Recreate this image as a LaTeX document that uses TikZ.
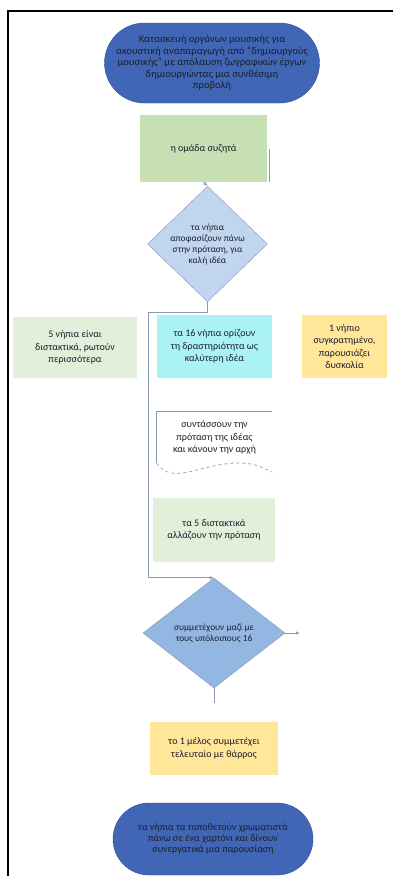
\documentclass[tikz,border=0pt]{standalone}
\usepackage{fontspec}
\setmainfont{Carlito}
\usepackage{xcolor}
\definecolor{bleunuit}{HTML}{4166B6}
\definecolor{bleubord}{HTML}{2F4E8E}
\definecolor{bleuclair}{HTML}{C0D5EE}
\definecolor{bleumoyen}{HTML}{93B6E2}
\definecolor{vert}{HTML}{C6E0B4}
\definecolor{vertpale}{HTML}{E2EFDA}
\definecolor{cyanpale}{HTML}{ABF2F6}
\definecolor{jaune}{HTML}{FFE699}
\definecolor{grisfil}{HTML}{8C9AAE}
\definecolor{encre}{HTML}{1A1F2C}
\usetikzlibrary{positioning,arrows.meta,calc,shapes.geometric,shapes.misc}

\begin{document}
\begin{tikzpicture}[x=1pt,y=-1pt,
  extremite/.style={rounded rectangle,draw=bleubord,fill=bleunuit,text=encre,align=center,inner sep=0pt,font=\fontsize{10}{11}\selectfont},
  boite/.style={fill=#1,text=encre,align=center,inner sep=0pt,font=\fontsize{10}{12.5}\selectfont},
  losange/.style={diamond,draw=grisfil,fill=#1,text=encre,align=center,inner sep=0pt,font=\fontsize{9.3}{11}\selectfont},
  fil/.style={draw=grisfil,line width=0.8pt,-{Latex[length=4pt,width=3.5pt]}}
]
\useasboundingbox (0,0) rectangle (393,876);
\draw[line width=1.5pt] (393,11) -- (8,11) -- (8,876);

\node[extremite,minimum width=215,minimum height=80,font=\fontsize{10.5}{11.5}\selectfont] (debut) at (212,63) {Κατασκευή οργάνων μουσικής για\\ακουστική αναπαραγωγή από ``δημιουργούς\\μουσικής'' με απόλαυση ζωγραφικών έργων\\δημιουργώντας μια συνθέσιμη\\προβολή};
\node[boite=vert,minimum width=127,minimum height=67] (vert) at (203.5,148.5) {η ομάδα συζητά};
\node[losange=bleuclair,minimum width=120,minimum height=108] (d1) at (207.5,244) {τα νήπια\\αποφασίζουν πάνω\\στην πρόταση, για\\καλή ιδέα};
\node[boite=vertpale,minimum width=124,minimum height=61] (gauche) at (75,347.5) {5 νήπια είναι\\διστακτικά, ρωτούν\\περισσότερα};
\node[boite=cyanpale,minimum width=115,minimum height=63] (milieu) at (214.5,346.5) {τα 16 νήπια ορίζουν\\τη δραστηριότητα ως\\καλύτερη ιδέα};
\node[boite=jaune,minimum width=85,minimum height=63] (droite) at (344.5,346.5) {1 νήπιο\\συγκρατημένο,\\παρουσιάζει\\δυσκολία};
\node[boite=white,minimum width=115,minimum height=51] (doc) at (214.5,437.5) {συντάσσουν την\\πρόταση της ιδέας\\και κάνουν την αρχή};
\node[boite=vertpale,minimum width=122,minimum height=64] (vert2) at (214,530) {τα 5 διστακτικά\\αλλάζουν την πρόταση};
\node[losange=bleumoyen,minimum width=142,minimum height=110] (d2) at (214,633) {συμμετέχουν μαζί με\\τους υπόλοιπους 16};
\node[boite=jaune,minimum width=128,minimum height=53] (jaune2) at (214,748.5) {το 1 μέλος συμμετέχει\\τελευταίο με θάρρος};
\node[extremite,minimum width=200,minimum height=72] (fin) at (213,839) {τα νήπια τα τοποθετούν χρωματιστά\\πάνω σε ένα χαρτόνι και δίνουν\\συνεργατικά μια παρουσίαση};

% contour du document
\draw[grisfil,line width=0.7pt] (doc.north east) -- (doc.north west) -- (doc.south west);
\draw[grisfil,line width=0.7pt,dashed] (doc.south west) .. controls +(15,22) and +(-35,2) .. ([xshift=76pt]doc.south west) .. controls +(20,-1) and +(-12,-6) .. ([yshift=-9pt]doc.south east);
\draw[grisfil,line width=0.8pt] ([xshift=2pt]vert.east) -- ([xshift=2pt]vert.south east);

\coordinate (coude) at (148,312);
\coordinate (sortie) at (300,633);
\coordinate (bas) at (214,703);
\draw[fil] (vert.south) -- (d1.north);
\draw[fil] (d1.south) |- (coude) |- (d2.north);
\draw[fil] (d2.east) -- (sortie);
\draw[grisfil,line width=0.8pt] (d2.south) -- (bas);
\end{tikzpicture}
\end{document}
